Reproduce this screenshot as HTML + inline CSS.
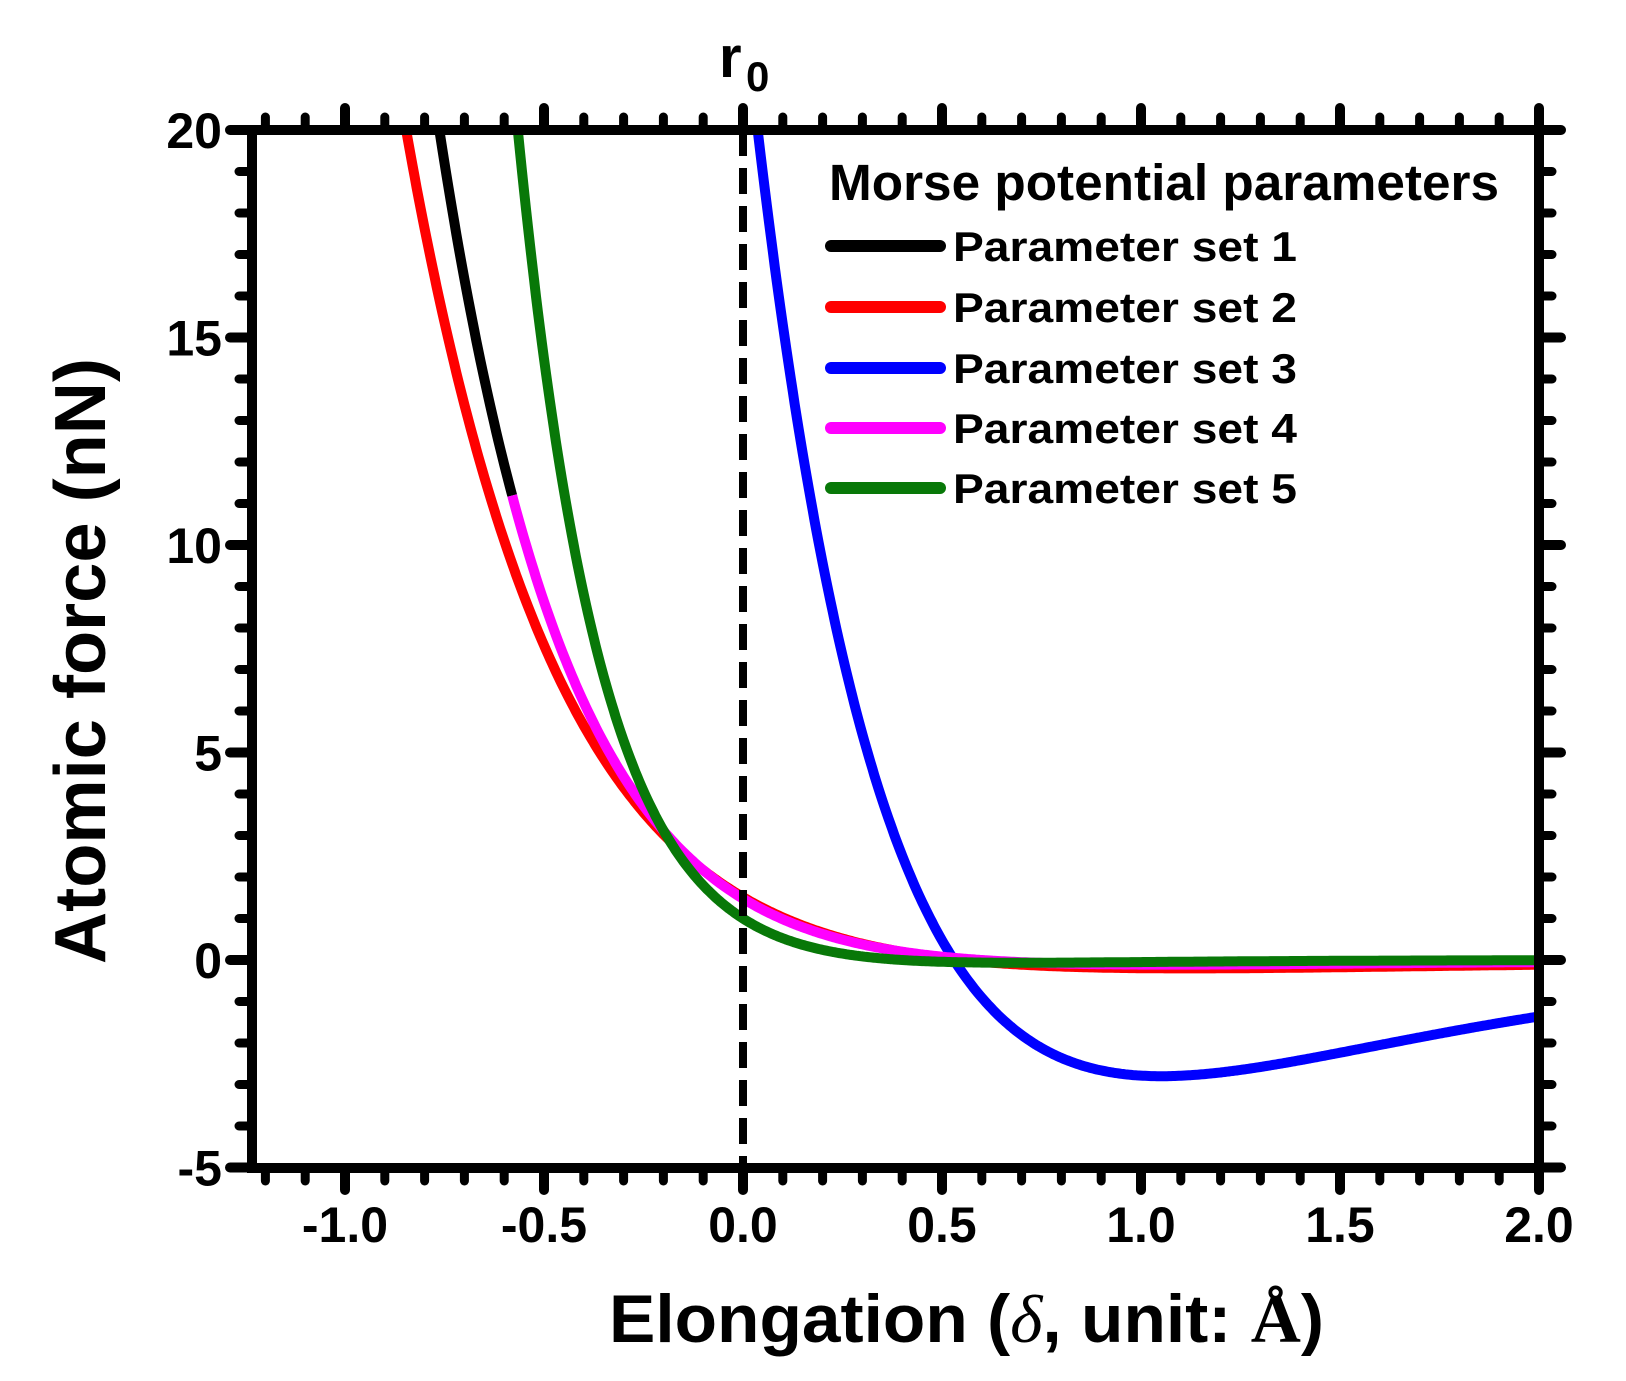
<!DOCTYPE html>
<html><head><meta charset="utf-8"><style>
html,body{margin:0;padding:0;background:#fff;}
svg{display:block;}
text{font-family:"Liberation Sans",Arial,sans-serif;font-weight:bold;fill:#000;}
</style></head><body>
<svg id="s" width="1626" height="1381" viewBox="0 0 1626 1381" xmlns="http://www.w3.org/2000/svg">
<defs><clipPath id="c"><rect x="252" y="130" width="1287" height="1038"/></clipPath></defs>
<g id="curves" clip-path="url(#c)"></g>
<line x1="743" y1="130" x2="743" y2="1168" stroke="#000" stroke-width="8" stroke-dasharray="26,12"/>
<g id="ticks" stroke="#000" stroke-linecap="round"></g>
<rect x="252" y="130" width="1287" height="1038" fill="none" stroke="#000" stroke-width="10"/>
<g id="labels" font-size="50"></g>
<text x="719" y="77" font-size="58">r</text>
<text x="746" y="91" font-size="42">0</text>
<text x="609" y="1342" font-size="68" textLength="715" lengthAdjust="spacingAndGlyphs">Elongation (<tspan font-family="Liberation Serif,serif" font-style="italic" font-weight="normal">δ</tspan>, unit: <tspan font-family="Liberation Serif,serif">Å</tspan>)</text>
<text transform="translate(105,964) rotate(-90)" font-size="72" textLength="606" lengthAdjust="spacingAndGlyphs">Atomic force (nN)</text>
<text x="829" y="200" font-size="51" textLength="670" lengthAdjust="spacingAndGlyphs">Morse potential parameters</text>
<g stroke-width="12" stroke-linecap="round">
<line x1="831" y1="246" x2="940" y2="246" stroke="#000"/>
<line x1="831" y1="307" x2="940" y2="307" stroke="#f00"/>
<line x1="831" y1="368" x2="940" y2="368" stroke="#00f"/>
<line x1="831" y1="428" x2="940" y2="428" stroke="#f0f"/>
<line x1="831" y1="488" x2="940" y2="488" stroke="#087808"/>
</g>
<g font-size="42">
<text x="953" y="261" textLength="344" lengthAdjust="spacingAndGlyphs">Parameter set 1</text>
<text x="953" y="322" textLength="344" lengthAdjust="spacingAndGlyphs">Parameter set 2</text>
<text x="953" y="383" textLength="344" lengthAdjust="spacingAndGlyphs">Parameter set 3</text>
<text x="953" y="443" textLength="344" lengthAdjust="spacingAndGlyphs">Parameter set 4</text>
<text x="953" y="503" textLength="344" lengthAdjust="spacingAndGlyphs">Parameter set 5</text>
</g>
</svg>
<script>
var NS="http://www.w3.org/2000/svg";
function X(v){return 743+398*v;}
function Y(v){return 130+(20-v)*41.5;}
function el(p,t,a){var e=document.createElementNS(NS,t);for(var k in a)e.setAttribute(k,a[k]);p.appendChild(e);return e;}
var T=document.getElementById('ticks'),L=document.getElementById('labels'),C=document.getElementById('curves');
for(var i=-12;i<=20;i++){var v=i/10,x=X(v),maj=(i%5===0),len=maj?22:13,w=maj?10:9;
 el(T,'line',{x1:x,y1:1168,x2:x,y2:1168+len,'stroke-width':w});
 el(T,'line',{x1:x,y1:130,x2:x,y2:130-len,'stroke-width':w});
 if(maj){var t=el(L,'text',{x:x,y:1242,'text-anchor':'middle'});t.textContent=v.toFixed(1);}}
for(var j=-5;j<=20;j++){var y=Y(j),maj=(j%5===0),len=maj?22:13,w=maj?10:9;
 el(T,'line',{x1:252,y1:y,x2:252-len,y2:y,'stroke-width':w});
 el(T,'line',{x1:1539,y1:y,x2:1539+len,y2:y,'stroke-width':w});
 if(maj){var t=el(L,'text',{x:222,y:y+18,'text-anchor':'end'});t.textContent=String(j);}}
function morse(k,a,x0){return function(x){var u=x-x0;return k*(Math.exp(-2*a*u)-Math.exp(-a*u));};}
function path(f,x1,x2,col){var d='';for(var x=x1;x<=x2+1e-9;x+=0.005){var v=f(x);if(v>24)v=24;d+=(d?'L':'M')+X(x).toFixed(1)+' '+Y(v).toFixed(1);}
 el(C,'path',{d:d,fill:'none',stroke:col,'stroke-width':10,'stroke-linejoin':'round'});}
var f1=morse(0.446,1.45,0.6),f2=morse(0.81,1.22,0.55),f3=morse(11.2,1.33,0.53),f5=morse(0.264,2.3,0.4);
path(f1,-0.9,-0.58,'#000');
path(f2,-1.0,2.0,'#f00');
path(f3,-0.1,2.0,'#00f');
path(f1,-0.58,2.0,'#f0f');
path(f5,-0.7,2.0,'#087808');
</script>
</body></html>
